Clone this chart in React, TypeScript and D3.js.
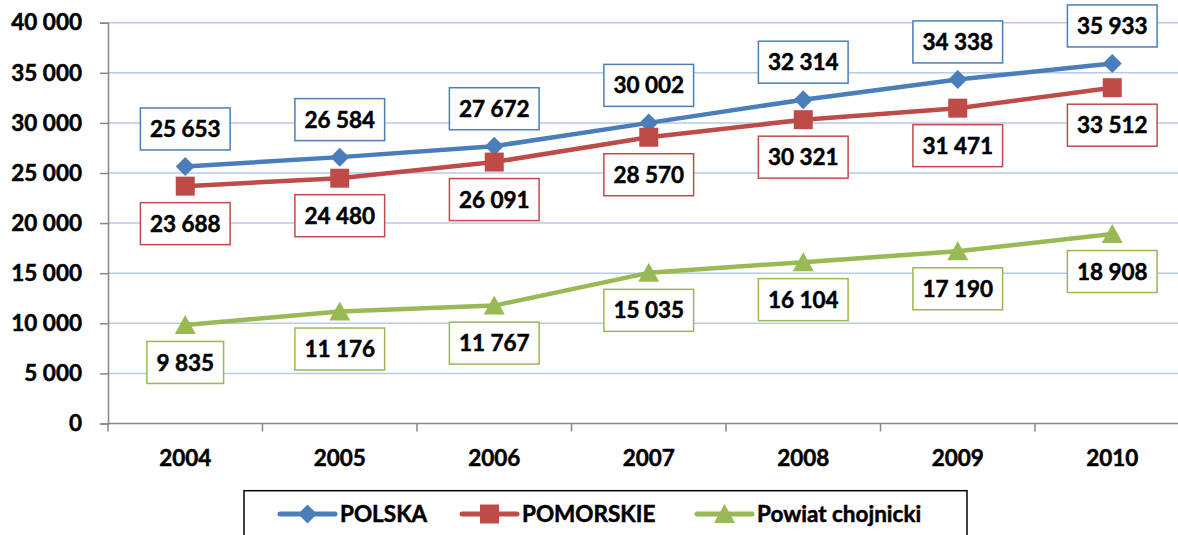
import React, { useRef, useEffect } from "react";
import * as d3 from "d3";

const width = 1178;
const height = 535;
const margin = { top: 22.7, left: 108, bottom: 111.5, right: -11.5 };
const iwidth = width - margin.left - margin.right;
const iheight = height - margin.top - margin.bottom;

const years = ["2004", "2005", "2006", "2007", "2008", "2009", "2010"];
const polska = [25653, 26584, 27672, 30002, 32314, 34338, 35933];
const pomorskie = [23688, 24480, 26091, 28570, 30321, 31471, 33512];
const chojnicki = [9835, 11176, 11767, 15035, 16104, 17190, 18908];
const yTicks = [0, 5000, 10000, 15000, 20000, 25000, 30000, 35000, 40000];

const series = [
  { name: "POLSKA", values: polska, color: "#4a7ebb", marker: "diamond", above: true },
  { name: "POMORSKIE", values: pomorskie, color: "#be4b48", marker: "square", above: false },
  { name: "Powiat chojnicki", values: chojnicki, color: "#98b954", marker: "triangle", above: false },
];

const font = "Lato, 'Open Sans', sans-serif";
const fmt = (v: number) => d3.format(",")(v).replace(/,/g, " ");

const markerPath = (type: string) => {
  if (type === "diamond") return "M0,-9.5L9.5,0L0,9.5L-9.5,0Z";
  if (type === "square") return "M-9.5,-9.5H9.5V9.5H-9.5Z";
  return "M0,-10L10.5,9L-10.5,9Z";
};

// bold text, slightly thickened to look like the heavy original
const boldText = (sel: any, size: number) =>
  sel
    .style("font-family", font)
    .style("font-weight", "bold")
    .style("font-size", `${size}px`)
    .style("fill", "#000")
    .style("stroke", "#000")
    .style("stroke-width", 0.5);

const App = () => {
  const ref = useRef<SVGSVGElement>(null);

  useEffect(() => {
    const svg = d3.select(ref.current);
    svg.selectAll("*").remove();
    const g = svg.append("g").attr("transform", `translate(${margin.left},${margin.top})`);

    const x = d3.scaleBand().domain(years).range([0, iwidth]).padding(0);
    const y = d3.scaleLinear().domain([0, 40000]).range([iheight, 0]);
    const cx = (d: string) => (x(d) as number) + x.bandwidth() / 2;

    // gridlines
    g.selectAll(".grid")
      .data(yTicks.filter((t) => t > 0))
      .enter()
      .append("line")
      .attr("x1", 0)
      .attr("x2", iwidth)
      .attr("y1", (d) => y(d))
      .attr("y2", (d) => y(d))
      .style("stroke", "#b9c9e8")
      .style("stroke-width", 1.5);

    // y axis
    const yAxis = g.append("g").call(
      d3.axisLeft(y).tickValues(yTicks).tickSize(8).tickPadding(18).tickFormat((d) => fmt(d as number))
    );
    yAxis.select(".domain").style("stroke", "#868686").style("stroke-width", 1.5);
    yAxis.selectAll(".tick line").style("stroke", "#868686").style("stroke-width", 1.5);
    boldText(yAxis.selectAll("text"), 22.5);

    // x axis
    const xAxis = g.append("g").attr("transform", `translate(0,${iheight})`);
    xAxis.append("line").attr("x1", 0).attr("x2", iwidth).style("stroke", "#868686").style("stroke-width", 1.5);
    xAxis.selectAll(".xt")
      .data(d3.range(0, years.length + 1))
      .enter()
      .append("line")
      .attr("x1", (i) => i * x.bandwidth())
      .attr("x2", (i) => i * x.bandwidth())
      .attr("y1", 0)
      .attr("y2", 8)
      .style("stroke", "#868686")
      .style("stroke-width", 1.5);
    boldText(
      xAxis.selectAll(".xl")
        .data(years)
        .enter()
        .append("text")
        .attr("x", (d) => cx(d))
        .attr("y", 35)
        .attr("dy", "0.35em")
        .attr("text-anchor", "middle")
        .text((d) => d),
      22.5
    );

    // lines and markers
    series.forEach((s) => {
      const line = d3.line<number>().x((_, i) => cx(years[i])).y((d) => y(d));
      g.append("path")
        .datum(s.values)
        .attr("d", line)
        .style("fill", "none")
        .style("stroke", s.color)
        .style("stroke-width", 4.5)
        .style("stroke-linejoin", "round");
      g.selectAll(null)
        .data(s.values)
        .enter()
        .append("path")
        .attr("transform", (d, i) => `translate(${cx(years[i])},${y(d)})`)
        .attr("d", markerPath(s.marker))
        .style("fill", s.color);
    });

    // data labels
    series.forEach((s) => {
      s.values.forEach((v, i) => {
        const lx = cx(years[i]);
        const ly = y(v) + (s.above ? -37.5 : 37.5);
        const lg = g.append("g");
        const rect = lg.append("rect");
        const t = boldText(
          lg.append("text")
            .attr("x", lx)
            .attr("y", ly)
            .attr("dy", "0.36em")
            .attr("text-anchor", "middle")
            .text(fmt(v)),
          22.5
        );
        const w = (t.node() as SVGTextElement).getComputedTextLength() + 19;
        rect.attr("x", lx - w / 2)
          .attr("y", ly - 21)
          .attr("width", w)
          .attr("height", 42)
          .style("fill", "#fff")
          .style("stroke", s.color)
          .style("stroke-width", 1.5);
      });
    });

    // legend
    const leg = svg.append("g");
    leg.append("rect")
      .attr("x", 244)
      .attr("y", 490.7)
      .attr("width", 723)
      .attr("height", 60)
      .style("fill", "#fff")
      .style("stroke", "#000")
      .style("stroke-width", 1.5);
    const legX = [280, 462, 697];
    series.forEach((s, i) => {
      const item = leg.append("g").attr("transform", `translate(${legX[i]},514)`);
      item.append("line")
        .attr("x1", 0)
        .attr("x2", 55)
        .style("stroke", s.color)
        .style("stroke-width", 5)
        .style("stroke-linecap", "round");
      item.append("path")
        .attr("transform", `translate(27.5,0)`)
        .attr("d", markerPath(s.marker))
        .style("fill", s.color);
      boldText(
        item.append("text")
          .attr("x", 60)
          .attr("dy", "0.36em")
          .text(s.name),
        22.5
      );
    });
  }, []);

  return <svg ref={ref} width={width} height={height} style={{ display: "block", position: "absolute", left: 0, top: 0 }}></svg>;
};

export default App;
